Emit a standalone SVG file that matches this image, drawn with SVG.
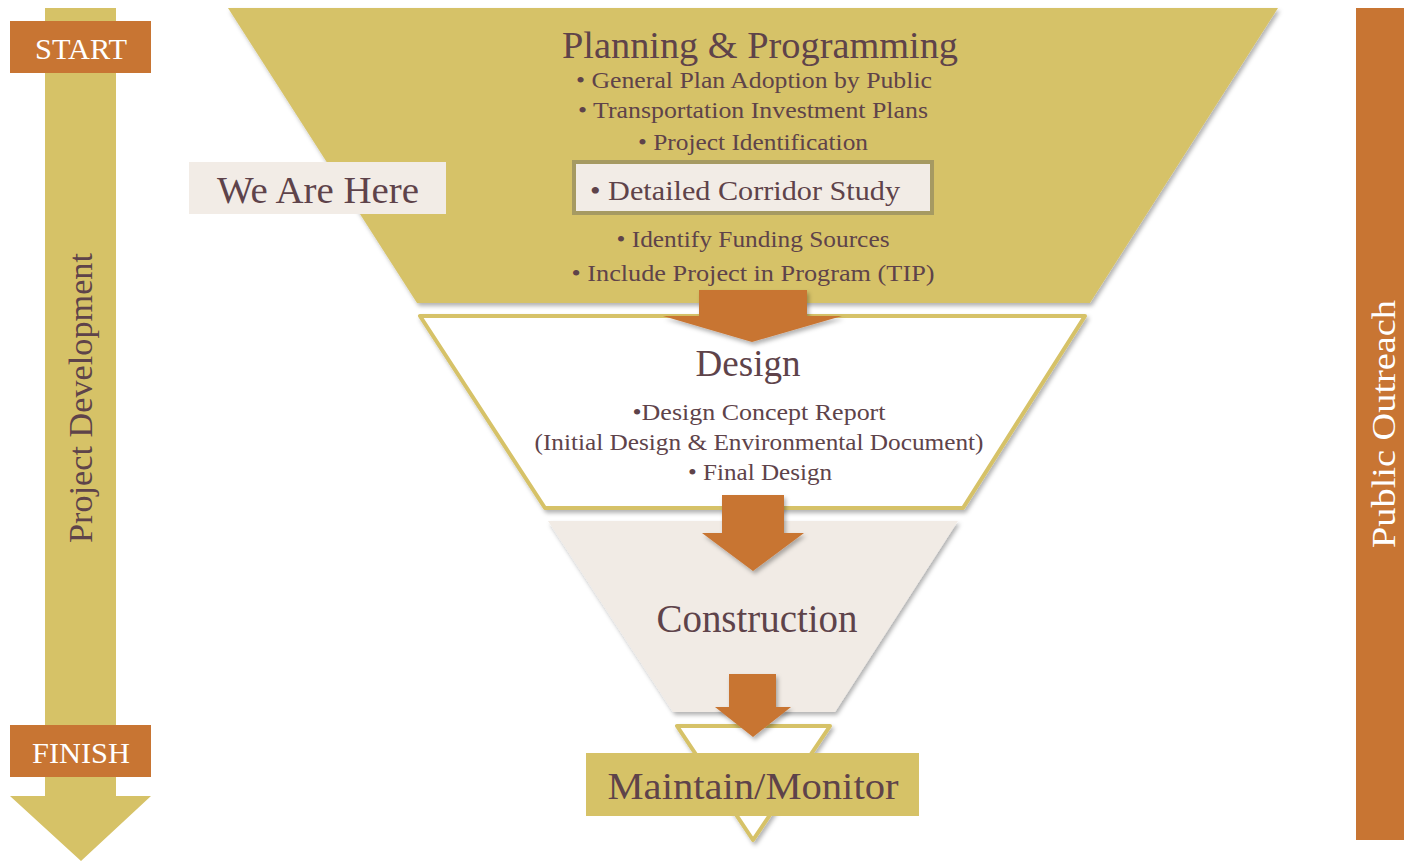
<svg xmlns="http://www.w3.org/2000/svg" width="1404" height="861" viewBox="0 0 1404 861">
<defs>
<filter id="sh" x="-10%" y="-10%" width="120%" height="130%">
<feDropShadow dx="2" dy="3" stdDeviation="2" flood-color="#000" flood-opacity="0.3"/>
</filter>
</defs>
<style>
text{font-family:"Liberation Serif","Times New Roman",serif;}
.t{fill:#5E434A;}
.w{fill:#FFFFFF;}
.gold{fill:#D6C267;}
.org{fill:#C87533;}
.beige{fill:#F2ECE6;}
.out{fill:#FFFFFF;stroke:#D6C267;stroke-width:4;stroke-linejoin:round;}
</style>
<rect width="1404" height="861" fill="#FFFFFF"/>

<g id="project-development">
<path class="gold" d="M45,8 H116 V796 H151 L81,861 L10,796 H45 Z"/>
<text class="t" font-size="34" text-anchor="middle" transform="translate(92,398) rotate(-90)" textLength="290" lengthAdjust="spacingAndGlyphs" fill="#6A4E55">Project Development</text>
</g>

<g id="start">
<rect class="org" x="10" y="21" width="141" height="52"/>
<text class="w" x="81" y="59" font-size="30" text-anchor="middle" textLength="92" lengthAdjust="spacingAndGlyphs">START</text>
</g>

<g id="finish">
<rect class="org" x="10" y="725" width="141" height="52"/>
<text class="w" x="81" y="763" font-size="30" text-anchor="middle" textLength="98" lengthAdjust="spacingAndGlyphs">FINISH</text>
</g>

<g id="public-outreach">
<rect class="org" x="1356" y="8" width="48" height="832"/>
<text class="w" font-size="34" text-anchor="middle" transform="translate(1395,424) rotate(-90)" textLength="248" lengthAdjust="spacingAndGlyphs">Public Outreach</text>
</g>

<g id="planning">
<path class="gold" filter="url(#sh)" d="M228,8 H1278 L1090,303 H417 Z"/>
<text class="t" x="760" y="58" font-size="38" text-anchor="middle" textLength="396" lengthAdjust="spacingAndGlyphs">Planning &amp; Programming</text>
<text class="t" x="754" y="88" font-size="24" text-anchor="middle" textLength="356" lengthAdjust="spacingAndGlyphs">• General Plan Adoption by Public</text>
<text class="t" x="753" y="118" font-size="24" text-anchor="middle" textLength="350" lengthAdjust="spacingAndGlyphs">• Transportation Investment Plans</text>
<text class="t" x="753" y="150" font-size="24" text-anchor="middle" textLength="230" lengthAdjust="spacingAndGlyphs">• Project Identification</text>
<text class="t" x="753" y="247" font-size="24" text-anchor="middle" textLength="273" lengthAdjust="spacingAndGlyphs">• Identify Funding Sources</text>
<text class="t" x="753" y="281" font-size="24" text-anchor="middle" textLength="363" lengthAdjust="spacingAndGlyphs">• Include Project in Program (TIP)</text>
</g>

<g id="corridor-study">
<rect x="574" y="162" width="358" height="51" fill="#F2ECE6" stroke="#A69A62" stroke-width="4"/>
<text class="t" x="590" y="200" font-size="28" textLength="310" lengthAdjust="spacingAndGlyphs">• Detailed Corridor Study</text>
</g>

<g id="we-are-here">
<rect class="beige" x="189" y="162" width="257" height="52"/>
<text class="t" x="217" y="203" font-size="37" textLength="202" lengthAdjust="spacingAndGlyphs">We Are Here</text>
</g>

<g id="design">
<path class="out" filter="url(#sh)" d="M420,316 H1085 L963,508 H545 Z"/>
<text class="t" x="748" y="376" font-size="38" text-anchor="middle" textLength="105" lengthAdjust="spacingAndGlyphs">Design</text>
<text class="t" x="759" y="420" font-size="24" text-anchor="middle" textLength="253" lengthAdjust="spacingAndGlyphs">•Design Concept Report</text>
<text class="t" x="759" y="450" font-size="24" text-anchor="middle" textLength="449" lengthAdjust="spacingAndGlyphs">(Initial Design &amp; Environmental Document)</text>
<text class="t" x="760" y="480" font-size="24" text-anchor="middle" textLength="144" lengthAdjust="spacingAndGlyphs">• Final Design</text>
</g>

<g id="construction">
<path filter="url(#sh)" fill="#F1EBE5" d="M548,521 H958 L835,712 H673 Z"/>
<text class="t" x="757" y="632" font-size="40" text-anchor="middle" textLength="201" lengthAdjust="spacingAndGlyphs">Construction</text>
</g>

<g id="maintain">
<path class="out" filter="url(#sh)" d="M677,726 H830 L753,840 Z"/>
<rect class="gold" x="586" y="753" width="333" height="63"/>
<text class="t" x="753" y="799" font-size="38" text-anchor="middle" textLength="291" lengthAdjust="spacingAndGlyphs">Maintain/Monitor</text>
</g>

<g id="connectors">
<path class="org" filter="url(#sh)" d="M699,290 H807 V316 H842 L752,342 L663,316 H699 Z"/>
<path class="org" filter="url(#sh)" d="M722,495 H784 V533 H804 L753,571 L702,533 H722 Z"/>
<path class="org" filter="url(#sh)" d="M729,674 H776 V707 H791 L753,737 L715,707 H729 Z"/>
</g>
</svg>
